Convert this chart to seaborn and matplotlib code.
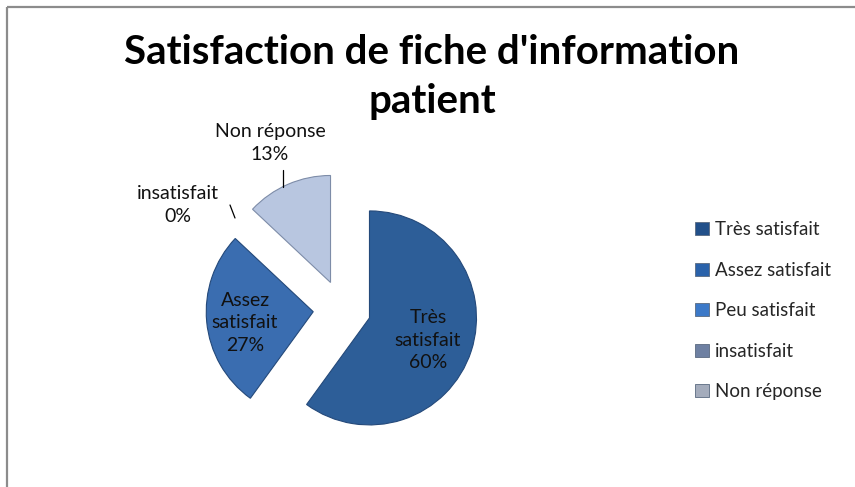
import numpy as np
import matplotlib
matplotlib.use('Agg')
import matplotlib.pyplot as plt
import seaborn as sns

# données du graphique
categories = ['Très satisfait', 'Assez satisfait', 'Peu satisfait', 'insatisfait', 'Non réponse']
valeurs = [60, 27, 0, 0, 13]
titre = "Satisfaction de fiche d'information\npatient"

couleurs_parts = ['#2D5E98', '#3A6DB0', '#4A7FC4', '#8797B4', '#B8C6E0']
couleurs_legende = ['#22508A', '#2A62AA', '#3C79C8', '#6E80A2', '#A4ACBC']

sns.set_theme(style='white')
plt.rcParams['font.family'] = ['Lato', 'DejaVu Sans']

W, H = 855, 487
fig = plt.figure(figsize=(W / 100, H / 100), dpi=100)
ax = fig.add_axes([0, 0, 1, 1])

centre = (342, H - 309)
rayon = 107
eclat = 0.27

# explode est appliqué en unités de données -> multiplier par le rayon
wedges, _ = ax.pie(valeurs, startangle=90, counterclock=False, colors=couleurs_parts,
                   explode=[eclat * rayon] * len(valeurs), center=centre, radius=rayon,
                   wedgeprops=dict(linewidth=0.8), frame=True)
for w, v in zip(wedges, valeurs):
    if v == 0:
        w.set_visible(False)
    else:
        # léger effet de relief
        w.set_edgecolor('#7D8CA8' if w.get_facecolor()[0] > 0.5 else '#24497A')

ax.set_xlim(0, W)
ax.set_ylim(0, H)
ax.set_aspect('equal')
ax.axis('off')

# cadre du graphique (coupé à droite et en bas)
ax.plot([7, 7], [-10, H - 7], color='#8C8C8C', lw=1.6, solid_capstyle='butt')
ax.plot([7, W + 10], [H - 7, H - 7], color='#8C8C8C', lw=1.6, solid_capstyle='butt')

# étiquettes des parts
total = sum(valeurs)
style_txt = dict(ha='center', va='center', fontsize=14, linespacing=1.4, color='#111111')
for nom, v in zip(categories, valeurs):
    pct = f'{v / total * 100:.0f}%'
    if nom == 'Très satisfait':
        ax.text(428, H - 340, 'Très\nsatisfait\n' + pct, **style_txt)
    elif nom == 'Assez satisfait':
        ax.text(245, H - 323, 'Assez\nsatisfait\n' + pct, **style_txt)
    elif nom == 'insatisfait':
        ax.text(178, H - 205, nom + '\n' + pct, **style_txt)
        ax.plot([230, 235], [H - 205, H - 218], color='black', lw=0.9)
    elif nom == 'Non réponse':
        ax.text(270, H - 143, nom + '\n' + pct, **style_txt)
        ax.plot([283, 283], [H - 170, H - 187], color='black', lw=0.9)

# titre
ax.text(432, H - 77, titre, ha='center', va='center', fontsize=29, fontweight='bold',
        linespacing=1.38, color='black')

# légende
poignees = [plt.Rectangle((0, 0), 1, 1, facecolor=c, edgecolor='#5A6A80', lw=0.6)
            for c in couleurs_legende]
leg = ax.legend(poignees, categories, loc='upper left', bbox_to_anchor=(686, H - 212),
                bbox_transform=ax.transData, frameon=False, fontsize=13.5,
                handlelength=0.7, handleheight=0.7, handletextpad=0.35,
                labelspacing=1.25, borderpad=0)

fig.savefig('out.png', dpi=100)
